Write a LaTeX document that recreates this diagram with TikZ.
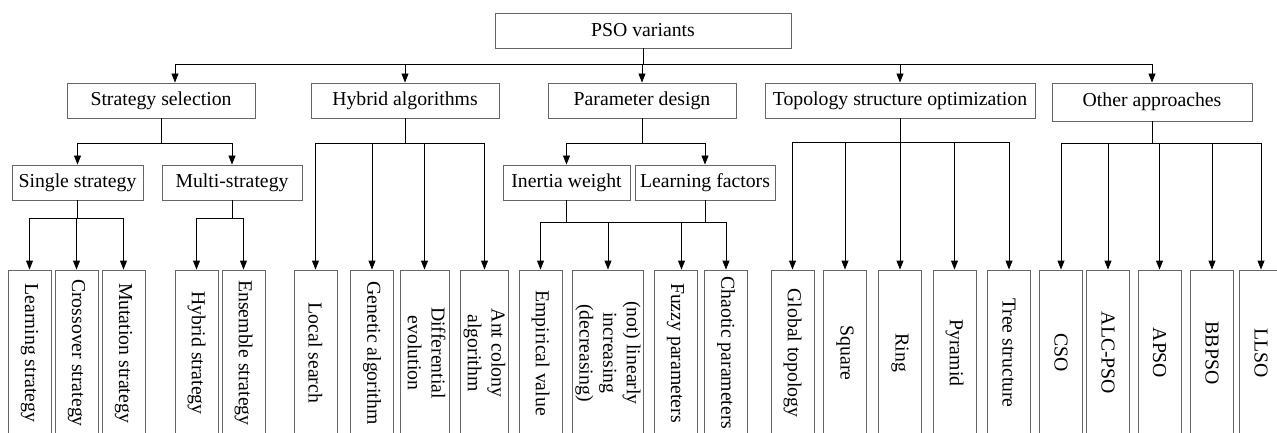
\documentclass[tikz,border=0pt]{standalone}
\usepackage{fontspec}
\setmainfont{Liberation Serif}
\usetikzlibrary{positioning, arrows.meta}

\begin{document}
\begin{tikzpicture}[
        x=1pt, y=-1pt,
        font=\fontsize{19.75}{23.7}\selectfont,
        box/.style={draw=black!60, line width=0.9pt, minimum height=35, inner sep=0pt},
        leaf/.style={draw=black!60, line width=0.9pt, minimum width=43, minimum height=166, inner sep=0pt},
        arrow/.style={draw, line width=0.9pt, -{Triangle[width=7pt, length=9pt]}},
        line/.style={draw, line width=0.9pt}
    ]
    \useasboundingbox (0,0) rectangle (1277,433);

    % Wurzel und erste Ebene
    \node (root) [box, minimum width=296] at (643,30.5) {PSO variants};
    \node (strat) [box, minimum width=188] at (161,100.5) {Strategy selection};
    \node (hybrid) [box, minimum width=188] at (405,100.5) {Hybrid algorithms};
    \node (param) [box, minimum width=188] at (642,100.5) {Parameter design};
    \node (topo) [box, minimum width=270] at (900,100.5) {Topology structure optimization};
    \node (other) [box, minimum width=200, minimum height=38] at (1152,102) {Other approaches};

    % zweite Ebene
    \node (single) [box, minimum width=131] at (77.5,182.5) {Single strategy};
    \node (multi) [box, minimum width=140] at (232,182.5) {Multi-strategy};
    \node (inertia) [box, minimum width=127] at (566.5,182.5) {Inertia weight};
    \node (learnf) [box, minimum width=140] at (705,182.5) {Learning factors};

    % Blaetter
    \node (learn) [leaf] at (29.5,353) {\rotatebox{-90}{Learning strategy}};
    \node (cross) [leaf] at (76.5,353) {\rotatebox{-90}{Crossover strategy}};
    \node (mutat) [leaf] at (123.5,353) {\rotatebox{-90}{Mutation strategy}};
    \node (hystr) [leaf] at (196.5,353) {\rotatebox{-90}{Hybrid strategy}};
    \node (ensem) [leaf] at (243.5,353) {\rotatebox{-90}{Ensemble strategy}};
    \node (local) [leaf] at (315.5,353) {\rotatebox{-90}{Local search}};
    \node (genet) [leaf] at (372,353) {\rotatebox{-90}{Genetic algorithm}};
    \node (diffev) [leaf, minimum width=49] at (424.5,353) {\rotatebox{-90}{\begin{tabular}{@{}c@{}}Differential\\evolution\end{tabular}}};
    \node (antcol) [leaf] at (484.5,353) {\rotatebox{-90}{\begin{tabular}{@{}c@{}}Ant colony\\algorithm\end{tabular}}};
    \node (empir) [leaf] at (540.5,353) {\rotatebox{-90}{Empirical value}};
    \node (linear) [leaf, minimum width=70] at (608,353) {\rotatebox{-90}{\begin{tabular}{@{}c@{}}(not) linearly\\increasing\\(decreasing)\end{tabular}}};
    \node (fuzzy) [leaf] at (675.5,353) {\rotatebox{-90}{Fuzzy parameters}};
    \node (chaos) [leaf] at (726,353) {\rotatebox{-90}{Chaotic parameters}};
    \node (global) [leaf] at (792.5,353) {\rotatebox{-90}{Global topology}};
    \node (square) [leaf] at (845,353) {\rotatebox{-90}{Square}};
    \node (ring) [leaf] at (900,353) {\rotatebox{-90}{Ring}};
    \node (pyram) [leaf] at (954.5,353) {\rotatebox{-90}{Pyramid}};
    \node (tree) [leaf] at (1009,353) {\rotatebox{-90}{Tree structure}};
    \node (cso) [leaf] at (1061,353) {\rotatebox{-90}{CSO}};
    \node (alcpso) [leaf] at (1108,353) {\rotatebox{-90}{ALC-PSO}};
    \node (apso) [leaf] at (1159.5,353) {\rotatebox{-90}{APSO}};
    \node (bbpso) [leaf] at (1212,353) {\rotatebox{-90}{BBPSO}};
    \node (llso) [leaf] at (1261,353) {\rotatebox{-90}{LLSO}};

    % Verbindungen
    \draw[arrow] (root.south) -- ++(0,16.5) -| ([xshift=14pt]strat.north);
    \foreach \n in {hybrid, param, topo, other}
        \draw[arrow] (root.south) -- ++(0,16.5) -| (\n.north);

    \foreach \n in {single, multi}
        \draw[arrow] (strat.south) -- ++(0,25) -| (\n.north);
    \foreach \n in {learn, cross, mutat}
        \draw[arrow] (single.south) -- ++(0,18) -| (\n.north);
    \foreach \n in {hystr, ensem}
        \draw[arrow] (multi.south) -- ++(0,18) -| (\n.north);

    \foreach \n in {local, genet, diffev, antcol}
        \draw[arrow] (hybrid.south) -- ++(0,25) -| (\n.north);

    \foreach \n in {inertia, learnf}
        \draw[arrow] (param.south) -- ++(0,25) -| (\n.north);
    \foreach \n in {empir, linear, chaos}
        \draw[arrow] (inertia.south) -- ++(0,22) -| (\n.north);
    \draw[arrow] (inertia.south) -- ++(0,22) -| ([xshift=6pt]fuzzy.north);
    \draw[line] (learnf.south) -- ++(0,22);

    \foreach \n in {global, square, ring, pyram, tree}
        \draw[arrow] (topo.south) -- ++(0,24) -| (\n.north);

    \foreach \n in {cso, alcpso, apso, bbpso, llso}
        \draw[arrow] (other.south) -- ++(0,22) -| (\n.north);

\end{tikzpicture}
\end{document}
